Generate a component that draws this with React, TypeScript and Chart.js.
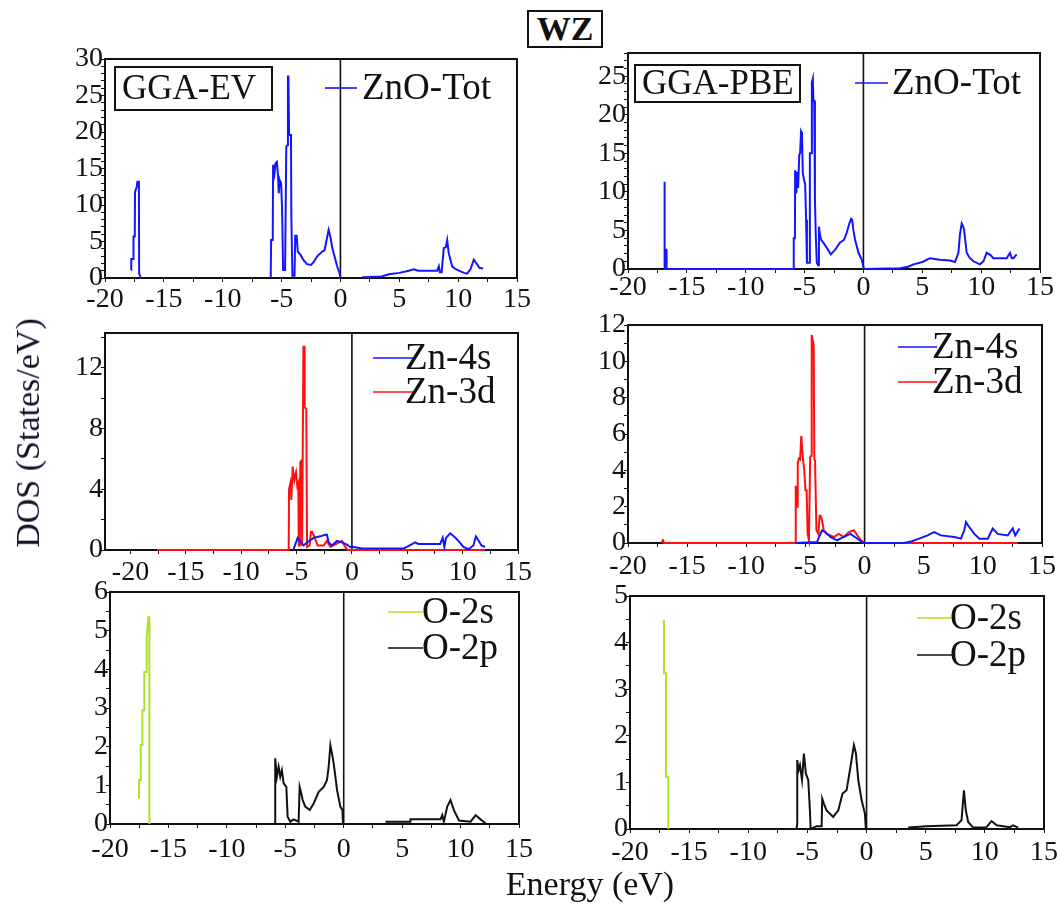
import React, { useEffect, useRef } from "react";
import { Chart, registerables } from "chart.js";

Chart.register(...registerables);

type Pt = [number, number | null];

const SERIF = '"Liberation Serif", "Times New Roman", Times, serif';
const INK = "#111";
const BLUE = "#1414ff";
const RED = "#ff1010";
const GREEN = "#aee02a";

// Energy axis ticks (eV): labelled every 5, minor marks every 2.5
const energyTicks = [-20, -17.5, -15, -12.5, -10, -7.5, -5, -2.5, 0, 2.5, 5, 7.5, 10, 12.5, 15];
const energyLabelStep = 5;

// ---------- GGA-EV ----------
const evTotal: Pt[] = [
  [-17.79, 1.1], [-17.77, 2.6], [-17.6, 2.6], [-17.58, 5.7], [-17.47, 5.7], [-17.45, 11.8],
  [-17.3, 12.5], [-17.25, 13.2], [-17.12, 13.2], [-17.1, 0.6], [-16.95, 0], [-16.9, null],
  [-5.92, 0], [-5.89, 5.2], [-5.75, 5.2], [-5.72, 15.5], [-5.6, 14.3], [-5.52, 15.7], [-5.4, 15.9],
  [-5.3, 14], [-5.24, 11.6], [-5.16, 13.4], [-5.04, 13], [-4.96, 9.8], [-4.87, 1.1], [-4.7, 1.1],
  [-4.6, 18], [-4.5, 18.2], [-4.46, 27.6], [-4.42, 27.6], [-4.36, 19.6], [-4.2, 19.6], [-4.17, 8.4],
  [-4.08, 0.3], [-3.9, 0.3], [-3.84, 5.8], [-3.72, 5.8], [-3.62, 3.6], [-3.4, 3.2], [-3.12, 2.4],
  [-2.83, 1.9], [-2.5, 1.8], [-2.27, 2.2], [-2.0, 2.9], [-1.84, 3.2], [-1.56, 3.6], [-1.35, 3.8],
  [-1.2, 5.0], [-1.0, 6.6], [-0.85, 5.6], [-0.7, 4.2], [-0.57, 3.4], [-0.28, 1.6], [-0.06, 0.6],
  [0, 0], [0.2, null],
  [1.84, 0.1], [3.5, 0.2], [4.11, 0.5], [5.0, 0.7], [5.8, 1.0], [6.23, 1.2], [6.6, 1.0], [8.22, 1.0],
  [8.36, 1.6], [8.45, 0.8], [8.6, 0.8], [8.78, 4.1], [8.95, 4.2], [9.07, 5.2], [9.2, 3.4], [9.49, 1.6],
  [9.8, 1.2], [10.2, 0.9], [10.5, 0.7], [10.76, 0.6], [11.05, 1.2], [11.33, 2.5], [11.5, 2.1],
  [11.61, 1.9], [11.8, 1.4], [12.12, 1.3],
];

const evZn4s: Pt[] = [
  [-5.3, 0], [-5.1, 0.4], [-4.9, 0.8], [-4.66, 0.55], [-4.36, 0.3], [-4.06, 0.5], [-3.46, 0.8],
  [-2.86, 0.9], [-2.4, 1.0], [-2.25, 1.0], [-2.1, 0.5], [-1.8, 0.3], [-1.35, 0.6], [-0.9, 0.5],
  [-0.45, 0.35], [-0.15, 0.2], [0.15, 0.2], [0.9, 0.1], [4.66, 0.1], [5.1, 0.26], [5.71, 0.5],
  [6.0, 0.4], [7.97, 0.4], [8.2, 0.8], [8.35, 0.2], [8.5, 0.8], [8.87, 1.1], [9.2, 0.9], [9.62, 0.6],
  [10.07, 0.2], [10.52, 0.05], [10.97, 0.3], [11.2, 0.9], [11.5, 0.55], [11.7, 0.3], [12.02, 0.2],
];

const evZn3d: Pt[] = [
  [-17.6, 0], [-5.71, 0], [-5.68, 4.0], [-5.56, 4.4], [-5.47, 3.3], [-5.35, 5.5], [-5.2, 4.6],
  [-5.05, 5.1], [-4.93, 4.2], [-4.84, 4.4], [-4.8, 0.3], [-4.7, 0.3], [-4.66, 5.8], [-4.54, 5.9],
  [-4.5, 0.3], [-4.42, 0.3], [-4.38, 13.4], [-4.3, 13.4], [-4.27, 9.4], [-4.12, 9.3], [-4.05, 0.2],
  [-3.82, 0.3], [-3.7, 1.2], [-3.61, 1.2], [-3.4, 0.9], [-3.1, 0.3], [-2.55, 0.3], [-2.25, 0.6],
  [-1.95, 0.2], [-1.41, 0.4], [-0.9, 0.6], [-0.6, 0.2], [-0.39, 0], [12.02, 0],
];

const evO2s: Pt[] = [
  [-17.51, 0.66], [-17.51, 1.14], [-17.37, 1.14], [-17.37, 2.04], [-17.23, 2.04], [-17.23, 2.94],
  [-17.06, 2.94], [-17.06, 3.93], [-16.86, 3.93], [-16.86, 4.84], [-16.71, 5.35], [-16.63, 5.35],
  [-16.63, 0],
];

const evO2p: Pt[] = [
  [-5.86, 0], [-5.86, 1.7], [-5.72, 1.22], [-5.57, 1.48], [-5.43, 1.22], [-5.29, 1.39], [-5.14, 1.05],
  [-4.91, 0.96], [-4.8, 0.19], [-4.57, 0.06], [-4.29, 0.12], [-3.86, 0.06], [-3.77, 0.96],
  [-3.66, 0.83], [-3.51, 0.62], [-3.29, 0.45], [-2.91, 0.36], [-2.57, 0.53], [-2.14, 0.83],
  [-1.71, 0.96], [-1.43, 1.14], [-1.29, 1.48], [-1.14, 2.04], [-1.0, 1.82], [-0.86, 1.57],
  [-0.57, 0.88], [-0.29, 0.45], [-0.11, 0.36], [-0.06, 0], [0.1, null],
  [3.57, 0.06], [5.71, 0.06], [5.71, 0.12], [8.29, 0.12], [8.43, 0.23], [8.57, 0.06], [8.86, 0.45],
  [9.14, 0.62], [9.43, 0.36], [9.86, 0.09], [10.86, 0.06], [11.29, 0.23], [11.71, 0.12], [12.14, 0.02],
];

// ---------- GGA-PBE ----------
const pbeTotal: Pt[] = [
  [-16.9, 0], [-16.9, 11.3], [-16.88, 2.5], [-16.76, 2.5], [-16.72, 0], [-5.94, 0],
  [-5.92, 4.0], [-5.82, 4.0], [-5.8, 12.8], [-5.7, 9.8], [-5.64, 12.6], [-5.55, 10.5], [-5.45, 14.8],
  [-5.38, 15], [-5.3, 17.8], [-5.22, 17.5], [-5.15, 12.4], [-5.05, 11.6], [-4.95, 11.0], [-4.87, 6.4],
  [-4.8, 0.8], [-4.62, 0.8], [-4.55, 15], [-4.45, 15], [-4.38, 24.2], [-4.3, 24.7], [-4.25, 21.8],
  [-4.18, 21.8], [-4.12, 9], [-4.05, 4.5], [-3.96, 0.8], [-3.85, 0.5], [-3.78, 5.5], [-3.7, 4.5],
  [-3.6, 3.8], [-3.4, 3.4], [-3.1, 2.7], [-2.77, 1.9], [-2.4, 2.5], [-2.0, 3.4], [-1.64, 3.8],
  [-1.42, 4.7], [-1.2, 5.9], [-1.05, 6.5], [-0.96, 6.4], [-0.85, 5.0], [-0.71, 3.8], [-0.42, 2.1],
  [-0.14, 1.2], [0, 0.3], [0.05, 0], [3.11, 0.1], [3.8, 0.3], [4.25, 0.6], [5.0, 0.9], [5.38, 1.2],
  [5.66, 1.4], [6.5, 1.2], [7.36, 1.1], [7.78, 0.9], [8.07, 2.1], [8.2, 4.5], [8.35, 5.9], [8.5, 5.4],
  [8.55, 5.1], [8.77, 2.1], [9.0, 1.5], [9.34, 1.0], [9.9, 0.6], [10.2, 1.0], [10.47, 2.1],
  [10.8, 1.8], [11.04, 1.4], [11.6, 1.4], [12.17, 1.4], [12.45, 2.1], [12.6, 1.4], [12.74, 1.4],
  [13.02, 1.9],
];

const pbeZn4s: Pt[] = [
  [-5.86, 0], [-4.02, 0.05], [-3.8, 0.4], [-3.59, 0.7], [-3.31, 0.6], [-2.89, 0.33], [-2.32, 0.15],
  [-1.9, 0.3], [-1.19, 0.5], [-0.76, 0.3], [-0.2, 0.05], [0, 0], [3.34, 0], [4.0, 0.1], [4.61, 0.24],
  [5.32, 0.42], [5.88, 0.6], [6.45, 0.42], [7.58, 0.33], [8.15, 0.24], [8.43, 0.7], [8.57, 1.15],
  [8.85, 0.88], [9.28, 0.5], [9.7, 0.24], [10.41, 0.24], [10.83, 0.8], [11.26, 0.5], [12.1, 0.42],
  [12.53, 0.8], [12.73, 0.42], [13.1, 0.8],
];

const pbeZn3d: Pt[] = [
  [-17.17, 0], [-17.05, 0.15], [-16.95, 0], [-5.86, 0], [-5.82, 3.1], [-5.77, 3.1], [-5.7, 2.0],
  [-5.65, 4.4], [-5.55, 4.65], [-5.45, 4.6], [-5.35, 5.9], [-5.3, 5.9], [-5.22, 4.7], [-5.1, 4.0],
  [-5.0, 2.9], [-4.9, 2.9], [-4.81, 0.5], [-4.7, 0.15], [-4.6, 4.7], [-4.52, 4.8], [-4.47, 11.45],
  [-4.4, 11.2], [-4.3, 10.9], [-4.25, 4.6], [-4.19, 4.55], [-4.07, 0.7], [-3.9, 0.5], [-3.8, 1.5],
  [-3.73, 1.5], [-3.6, 1.25], [-3.45, 0.7], [-3.2, 0.5], [-2.6, 0.33], [-2.18, 0.5], [-1.75, 0.33],
  [-1.33, 0.6], [-0.9, 0.7], [-0.6, 0.4], [-0.3, 0.15], [0, 0], [12.96, 0],
];

const pbeO2s: Pt[] = [
  [-17.13, 4.48], [-17.13, 3.34], [-16.96, 3.34], [-16.96, 1.12], [-16.76, 1.12], [-16.76, 0],
];

const pbeO2p: Pt[] = [
  [-5.92, 0], [-5.86, 0.12], [-5.86, 1.48], [-5.75, 1.26], [-5.63, 1.37], [-5.46, 1.05], [-5.3, 1.62],
  [-5.13, 1.19], [-4.93, 1.05], [-4.79, 0.4], [-4.73, 0], [-4.23, 0.06], [-3.8, 0.06], [-3.75, 0.65],
  [-3.6, 0.54], [-3.38, 0.4], [-2.82, 0.26], [-2.39, 0.4], [-2.03, 0.76], [-1.69, 0.83], [-1.41, 1.26],
  [-1.07, 1.8], [-0.9, 1.62], [-0.7, 1.05], [-0.42, 0.62], [-0.14, 0.33], [-0.06, 0], [0.1, null],
  [3.52, 0.03], [5.07, 0.06], [7.61, 0.08], [8.03, 0.19], [8.23, 0.83], [8.39, 0.4], [8.59, 0.15],
  [9.01, 0.03], [10.14, 0.04], [10.56, 0.17], [11.0, 0.08], [12.11, 0.04], [12.39, 0.08], [12.82, 0.03],
];

// ---------- panel layout ----------
type Series = { label: string; color: string; points: Pt[] };
type PanelSpec = {
  area: { left: number; top: number; right: number; bottom: number };
  xMin: number;
  xMax: number;
  yMax: number;
  yStep: number;
  yLabelEvery: number;
  xPad: number;
  series: Series[];
  legend: { lineX1: number; lineX2: number; textX: number; y: number; gap: number };
  method?: { text: string; x: number; y: number; w: number; h: number };
};

const Y_AXIS_W = 60;
const X_AXIS_H = 40;
const PAD_TOP = 16;
const PAD_RIGHT = 26;

const panels: PanelSpec[] = [
  {
    area: { left: 105, top: 59, right: 517, bottom: 278 },
    xMin: -20, xMax: 15, yMax: 30, yStep: 1, yLabelEvery: 5, xPad: 1,
    series: [{ label: "ZnO-Tot", color: BLUE, points: evTotal }],
    legend: { lineX1: 220, lineX2: 252, textX: 257, y: 29, gap: 0 },
    method: { text: "GGA-EV", x: 10, y: 8, w: 157, h: 43 },
  },
  {
    area: { left: 628, top: 53, right: 1040, bottom: 269 },
    xMin: -20, xMax: 15, yMax: 28, yStep: 1, yLabelEvery: 5, xPad: -2,
    series: [{ label: "ZnO-Tot", color: BLUE, points: pbeTotal }],
    legend: { lineX1: 227, lineX2: 260, textX: 264, y: 30, gap: 0 },
    method: { text: "GGA-PBE", x: 7, y: 12, w: 165, h: 37 },
  },
  {
    area: { left: 105, top: 333, right: 518, bottom: 550 },
    xMin: -22.3, xMax: 15, yMax: 14.3, yStep: 2, yLabelEvery: 4, xPad: 2,
    series: [
      { label: "Zn-4s", color: BLUE, points: evZn4s },
      { label: "Zn-3d", color: RED, points: evZn3d },
    ],
    legend: { lineX1: 268, lineX2: 308, textX: 300, y: 25, gap: 34 },
  },
  {
    area: { left: 628, top: 325, right: 1042, bottom: 543 },
    xMin: -20, xMax: 15, yMax: 12, yStep: 1, yLabelEvery: 2, xPad: 3,
    series: [
      { label: "Zn-4s", color: BLUE, points: pbeZn4s },
      { label: "Zn-3d", color: RED, points: pbeZn3d },
    ],
    legend: { lineX1: 270, lineX2: 309, textX: 304, y: 22, gap: 35 },
  },
  {
    area: { left: 110, top: 592, right: 519, bottom: 824 },
    xMin: -20, xMax: 15, yMax: 6, yStep: 0.5, yLabelEvery: 1, xPad: 5,
    series: [
      { label: "O-2s", color: GREEN, points: evO2s },
      { label: "O-2p", color: INK, points: evO2p },
    ],
    legend: { lineX1: 278, lineX2: 313, textX: 312, y: 20, gap: 36 },
  },
  {
    area: { left: 630, top: 596, right: 1044, bottom: 829 },
    xMin: -20, xMax: 15, yMax: 5, yStep: 0.5, yLabelEvery: 1, xPad: 3,
    series: [
      { label: "O-2s", color: GREEN, points: pbeO2s },
      { label: "O-2p", color: INK, points: pbeO2p },
    ],
    legend: { lineX1: 287, lineX2: 322, textX: 320, y: 22, gap: 37 },
  },
];

const isMultiple = (v: number, step: number) => Math.abs(v / step - Math.round(v / step)) < 1e-6;

// frame, Fermi-level line, legend and method label
const decorPlugin = {
  id: "dosDecor",
  beforeDatasetsDraw(chart: any) {
    const { ctx, chartArea: a, scales } = chart;
    ctx.save();
    ctx.strokeStyle = INK;
    ctx.lineWidth = 2;
    ctx.strokeRect(a.left, a.top, a.right - a.left, a.bottom - a.top);
    const x0 = scales.x.getPixelForValue(0);
    ctx.lineWidth = 1.6;
    ctx.beginPath();
    ctx.moveTo(x0, a.top);
    ctx.lineTo(x0, a.bottom);
    ctx.stroke();
    ctx.restore();
  },
  afterDraw(chart: any, _args: any, opts: any) {
    const spec: PanelSpec = opts.spec;
    const { ctx, chartArea: a } = chart;
    ctx.save();
    ctx.textBaseline = "middle";
    ctx.textAlign = "left";
    ctx.font = `37px ${SERIF}`;
    spec.series.forEach((s, i) => {
      const y = a.top + spec.legend.y + i * spec.legend.gap;
      ctx.strokeStyle = s.color;
      ctx.lineWidth = 1.6;
      ctx.beginPath();
      ctx.moveTo(a.left + spec.legend.lineX1, y);
      ctx.lineTo(a.left + spec.legend.lineX2, y);
      ctx.stroke();
      ctx.fillStyle = INK;
      ctx.fillText(s.label, a.left + spec.legend.textX, y + 1);
    });
    if (spec.method) {
      const m = spec.method;
      ctx.strokeStyle = INK;
      ctx.lineWidth = 2;
      ctx.fillStyle = "#fff";
      ctx.fillRect(a.left + m.x, a.top + m.y, m.w, m.h);
      ctx.strokeRect(a.left + m.x, a.top + m.y, m.w, m.h);
      ctx.fillStyle = INK;
      ctx.font = `35px ${SERIF}`;
      ctx.fillText(m.text, a.left + m.x + 7, a.top + m.y + m.h / 2 + 1);
    }
    ctx.restore();
  },
};

function DosPanel({ spec }: { spec: PanelSpec }) {
  const ref = useRef<HTMLCanvasElement | null>(null);
  const { area } = spec;
  const left = area.left - Y_AXIS_W;
  const top = area.top - PAD_TOP;
  const width = area.right - area.left + Y_AXIS_W + PAD_RIGHT;
  const height = area.bottom - area.top + PAD_TOP + X_AXIS_H;

  useEffect(() => {
    if (!ref.current) return;
    const yTicks: number[] = [];
    for (let i = 0; i * spec.yStep <= spec.yMax + 1e-9; i++) {
      yTicks.push(Math.round(i * spec.yStep * 1000) / 1000);
    }
    const tickFont = { family: SERIF, size: 28 };
    const chart = new Chart(ref.current, {
      type: "line",
      data: {
        datasets: spec.series.map((s) => ({
          label: s.label,
          data: s.points.map(([x, y]) => ({ x, y })),
          borderColor: s.color,
          borderWidth: 2,
          pointRadius: 0,
          tension: 0,
          fill: false,
          spanGaps: false,
          clip: 4,
        })),
      },
      options: {
        responsive: false,
        animation: false,
        events: [],
        layout: { padding: { top: PAD_TOP, right: PAD_RIGHT, left: 0, bottom: 0 } },
        plugins: {
          legend: { display: false },
          tooltip: { enabled: false },
          dosDecor: { spec },
        },
        scales: {
          x: {
            type: "linear",
            min: spec.xMin,
            max: spec.xMax,
            afterBuildTicks: (s: any) => {
              s.ticks = energyTicks.filter((v) => v >= spec.xMin && v <= spec.xMax).map((v) => ({ value: v }));
            },
            afterFit: (s: any) => {
              s.height = X_AXIS_H;
            },
            ticks: {
              autoSkip: false,
              maxRotation: 0,
              padding: spec.xPad,
              color: INK,
              font: tickFont,
              callback: (v: any) => (isMultiple(Number(v), energyLabelStep) ? String(v) : ""),
            },
            grid: { display: true, drawOnChartArea: false, drawTicks: true, tickLength: 4, color: INK },
            border: { display: true, color: INK, width: 2 },
          },
          y: {
            type: "linear",
            min: 0,
            max: spec.yMax,
            afterBuildTicks: (s: any) => {
              s.ticks = yTicks.map((v) => ({ value: v }));
            },
            afterFit: (s: any) => {
              s.width = Y_AXIS_W;
            },
            ticks: {
              autoSkip: false,
              padding: -2,
              color: INK,
              font: tickFont,
              callback: (v: any) => (isMultiple(Number(v), spec.yLabelEvery) ? String(v) : ""),
            },
            grid: { display: true, drawOnChartArea: false, drawTicks: true, tickLength: 4, color: INK },
            border: { display: true, color: INK, width: 2 },
          },
        },
      },
      plugins: [decorPlugin],
    } as any);
    return () => chart.destroy();
  }, [spec]);

  return (
    <canvas
      ref={ref}
      width={width}
      height={height}
      style={{ position: "absolute", left, top, width, height }}
    />
  );
}

export default function App() {
  return (
    <div
      style={{
        position: "absolute",
        left: 0,
        top: 0,
        width: 1061,
        height: 906,
        background: "#fff",
        fontFamily: SERIF,
        color: INK,
        overflow: "hidden",
      }}
    >
      {panels.map((p, i) => (
        <DosPanel key={i} spec={p} />
      ))}
      <div
        style={{
          position: "absolute",
          left: 527,
          top: 10,
          width: 76,
          height: 38,
          boxSizing: "border-box",
          border: `2px solid ${INK}`,
          fontWeight: "bold",
          fontSize: 34,
          lineHeight: "34px",
          textAlign: "center",
          background: "#fff",
        }}
      >
        WZ
      </div>
      <div
        style={{
          position: "absolute",
          left: 28,
          top: 433,
          transform: "translate(-50%, -50%) rotate(-90deg)",
          whiteSpace: "nowrap",
          fontSize: 34,
          lineHeight: "34px",
          color: "#14142a",
        }}
      >
        DOS (States/eV)
      </div>
      <div
        style={{
          position: "absolute",
          left: 590,
          top: 884,
          transform: "translate(-50%, -50%)",
          whiteSpace: "nowrap",
          fontSize: 34,
          lineHeight: "34px",
        }}
      >
        Energy (eV)
      </div>
    </div>
  );
}
